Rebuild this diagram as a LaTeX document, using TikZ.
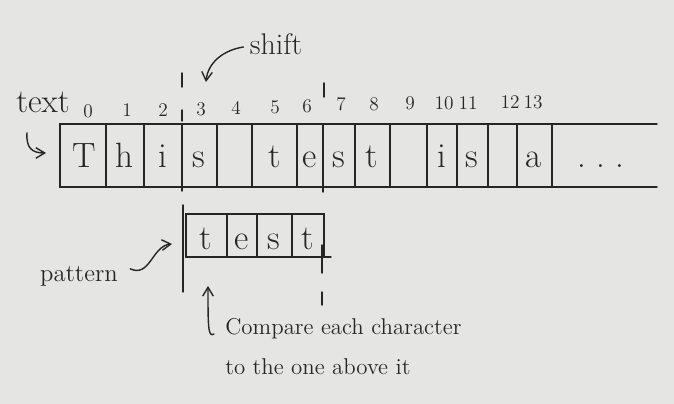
\documentclass[tikz,border=0pt]{standalone}
\usetikzlibrary{arrows.meta}

\begin{document}
\begin{tikzpicture}[x=0.02cm,y=-0.02cm,>={Straight Barb[length=5pt,width=6pt]}]

% colors
\definecolor{paper}{RGB}{229,229,227}
\colorlet{ink}{black!85}

\tikzset{
  pen/.style={draw=ink,line width=0.8pt,line cap=round},
  glyph/.style={text=ink,font=\fontsize{20}{24}\selectfont,inner sep=0pt},
  idx/.style={text=ink,font=\fontsize{11}{13}\selectfont,inner sep=0pt},
  note/.style={text=ink,inner sep=0pt}
}

% paper
\fill[paper] (0,0) rectangle (674,404);
\useasboundingbox (0,0) rectangle (674,404);

% geometry
\def\stripT{124}
\def\stripB{187}
\def\patT{214}
\def\patB{257}

% text strip (open on the right)
\draw[pen] (657,\stripT) -- (60,\stripT) -- (60,\stripB) -- (657,\stripB);
\foreach \x in {106,144,217,252,297,355,390,427,457,488,517,552}{
  \draw[pen] (\x,\stripT) -- (\x,\stripB);
}

% characters of the text
\foreach \k/\x/\c in {
  1/84/T, 2/124/h, 3/163/i, 4/199/s,
  5/275/t, 6/310/e, 7/339/s, 8/372/t,
  9/442/i, 10/472/s, 11/534/a
}{
  \node[glyph,anchor=base] (txt\k) at (\x,168) {\c};
}
\node[glyph,anchor=base] (dots) at (601,168) {.\ .\ .};

% indices
\foreach \n/\x/\y in {
  0/88/118, 1/127/117, 2/163/117, 3/201/116, 4/236/115,
  5/275/114, 6/307/113, 7/341/111, 8/374/111, 9/410/110,
  10/444/110, 11/468/110, 12/510/109, 13/533/109
}{
  \node[idx,anchor=base] (idx\n) at (\x,\y) {\n};
}

% alignment guides
\draw[pen] (182,73) -- (182,87);
\draw[pen] (182,110) -- (182,121);
\draw[pen] (182,\stripT) -- (182,191);
\draw[pen] (183,205) -- (183,292);
\draw[pen] (324,83) -- (324,97);
\draw[pen] (323,\stripT) -- (323,192);
\draw[pen] (322,245) -- (322,273);
\draw[pen] (322,292) -- (322,305);

% pattern box
\draw[pen] (186,\patT) rectangle (324,\patB);
\draw[pen] (324,\patB) -- (331,\patB);
\foreach \x in {227,257,292}{
  \draw[pen] (\x,\patT) -- (\x,\patB);
}
\foreach \k/\x/\c in {1/206/t, 2/242/e, 3/274/s, 4/308/t}{
  \node[glyph,anchor=base] (pat\k) at (\x,250) {\c};
}

% labels
\node[note,font=\fontsize{19}{22}\selectfont] (lbltext) at (43,102) {text};
\node[note,font=\fontsize{17}{20}\selectfont] (lblshift) at (276,44) {shift};
\node[note,font=\fontsize{14}{17}\selectfont,anchor=base] (lblpattern) at (79,282) {pattern};
\node[note,font=\fontsize{13}{23}\selectfont,anchor=north west,align=left]
  (lblcompare) at (225,318) {Compare each character\\to the one above it};

% arrows
\coordinate (stripin) at (46,153);
\coordinate (shiftin) at (206,82);
\coordinate (patin) at (172,244);
\coordinate (cmptip) at (208,286);

\draw[pen,->] ([shift={(-16,20)}]lbltext.south) .. controls (26,148) and (32,153) .. (stripin);
\draw[pen,->] ([shift={(-6,3)}]lblshift.west) .. controls (224,50) and (208,62) .. (shiftin);
\draw[pen,->] ([shift={(12,-8)}]lblpattern.east) .. controls (150,278) and (152,246) .. (patin);
\draw[pen,->] ([shift={(-11,16)}]lblcompare.north west) .. controls (208,338) and (208,326) .. (cmptip);

\end{tikzpicture}
\end{document}
